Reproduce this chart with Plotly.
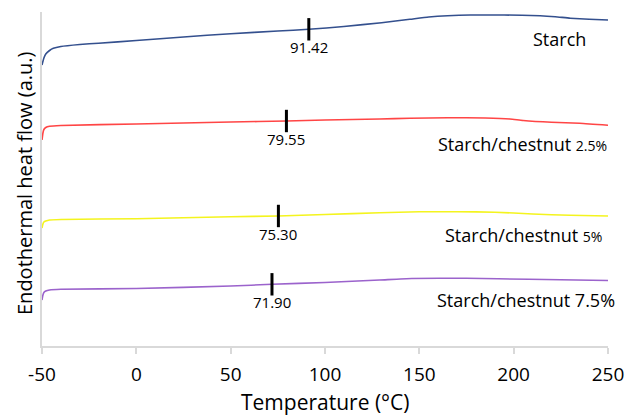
import numpy as np
import plotly.graph_objects as go

# ---- data (temperature in °C, heat flow in arbitrary units, curves offset) ----
starch_T = [-50, -49, -48, -46, -44, -40, -30, -20, 0, 25, 50, 75, 91.4, 110, 130, 145, 155, 165, 177, 195, 214, 222, 230, 240, 250]
starch_Q = [28.1, 28.8, 29.2, 29.55, 29.77, 29.95, 30.15, 30.28, 30.55, 30.9, 31.23, 31.5, 31.67, 31.95, 32.33, 32.67, 32.9, 33.03, 33.1, 33.1, 33.03, 32.93, 32.78, 32.67, 32.6]

c25_T = [-50, -49.5, -49, -48, -46, -40, 0, 50, 79.5, 100, 129, 145, 165, 185, 198, 205, 220, 235, 250]
c25_Q = [20.6, 21.3, 21.65, 21.85, 21.97, 22.05, 22.2, 22.4, 22.5, 22.6, 22.7, 22.77, 22.83, 22.8, 22.7, 22.55, 22.37, 22.27, 22.07]

c5_T = [-50, -49.5, -49, -48, -46, -40, 0, 50, 75, 100, 129, 150, 170, 190, 210, 230, 250]
c5_Q = [11.8, 12.2, 12.4, 12.5, 12.6, 12.65, 12.73, 12.92, 13.0, 13.15, 13.33, 13.42, 13.43, 13.38, 13.2, 13.07, 13.0]

c75_T = [-50, -49.5, -49, -48, -46, -40, 0, 50, 72, 100, 129, 146, 175, 208, 250]
c75_Q = [4.6, 5.1, 5.35, 5.5, 5.6, 5.67, 5.75, 6.0, 6.17, 6.35, 6.6, 6.75, 6.77, 6.67, 6.55]

series_names = ["Starch", "Starch/chestnut", "Starch/chestnut", "Starch/chestnut"]
series_pct = ["", "2.5%", "5%", "7.5%"]
onset_T = [91.42, 79.55, 75.30, 71.90]
onset_labels = ["91.42", "79.55", "75.30", "71.90"]

x_ticks = [-50, 0, 50, 100, 150, 200, 250]

# ---- styling ----
colors = ["#34508E", "#FF4545", "#F4F41E", "#9B63CC"]
pct_sizes = [18, 14, 14, 18]
label_right_px = [588, 609, 604, 617]
FONT = "Open Sans"

W, H = 628, 417
ML, MR, MT, MB = 42, 20, 12, 71
pw = W - ML - MR
ph = H - MT - MB

fig = go.Figure()
all_T = [starch_T, c25_T, c5_T, c75_T]
all_Q = [starch_Q, c25_Q, c5_Q, c75_Q]

for T, Q, col in zip(all_T, all_Q, colors):
    fig.add_trace(go.Scatter(x=T, y=Q, mode="lines", line=dict(color=col, width=1.6, shape="spline", smoothing=0.5),
                             showlegend=False, hoverinfo="skip"))

# onset markers and labels
for i, (T, Q) in enumerate(zip(all_T, all_Q)):
    yv = float(np.interp(onset_T[i], T, Q))
    fig.add_trace(go.Scatter(x=[onset_T[i]], y=[yv], mode="markers",
                             marker=dict(symbol="line-ns", size=16, line=dict(color="black", width=3)),
                             showlegend=False, hoverinfo="skip"))
    fig.add_annotation(x=onset_T[i], y=yv, text=onset_labels[i], showarrow=False,
                       yshift=-18, font=dict(family=FONT, size=15, color="black"),
                       xanchor="center", yanchor="middle")
    # series label
    txt = series_names[i]
    if series_pct[i]:
        txt += " " + f"<span style='font-size:{pct_sizes[i]}px'>{series_pct[i]}</span>"
    fig.add_annotation(x=(label_right_px[i] - ML) / pw, xref="paper", y=Q[-1], yref="y",
                       text=txt, showarrow=False, yshift=-19,
                       font=dict(family=FONT, size=18, color="black"),
                       xanchor="right", yanchor="middle")

# axis titles
fig.add_annotation(x=(24 - ML) / pw, xref="paper", y=(MT + ph - 183) / ph, yref="paper",
                   text="Endothermal heat flow (a.u.)", textangle=-90, showarrow=False,
                   font=dict(family=FONT, size=20, color="black"), xanchor="center", yanchor="middle")
fig.add_annotation(x=(325 - ML) / pw, xref="paper", y=-(402 - MT - ph) / ph, yref="paper",
                   text="Temperature (°C)", showarrow=False,
                   font=dict(family=FONT, size=21, color="black"), xanchor="center", yanchor="middle")

fig.update_layout(
    width=W, height=H,
    margin=dict(l=ML, r=MR, t=MT, b=MB, pad=0),
    paper_bgcolor="white", plot_bgcolor="white",
    xaxis=dict(range=[-50, 250], tickvals=x_ticks, ticktext=[str(v) for v in x_ticks],
               automargin=False,
               showgrid=False, zeroline=False, showline=True, linecolor="#D9D9D9", linewidth=2,
               ticks="outside", ticklen=6, tickcolor="#D9D9D9", tickwidth=1.5,
               ticklabelstandoff=4,
               tickfont=dict(family=FONT, size=19, color="black")),
    yaxis=dict(range=[0, ph / 10], automargin=False, showgrid=False, zeroline=False, showline=True,
               linecolor="#D9D9D9", linewidth=2, showticklabels=False, ticks=""),
)

fig.write_html("out.html", config={"displayModeBar": False},
               post_script="document.body.style.margin='0';document.body.style.overflow='hidden';")
